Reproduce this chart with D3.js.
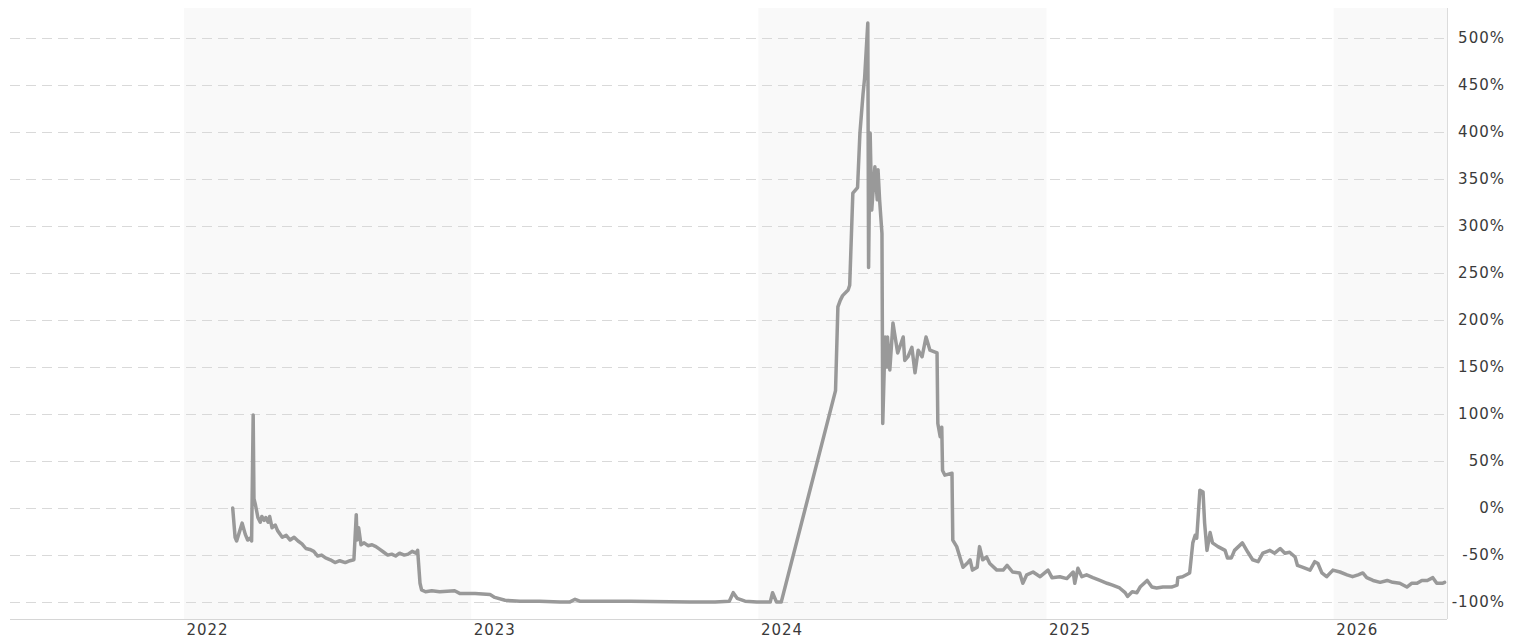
<!DOCTYPE html>
<html>
<head>
<meta charset="utf-8">
<script src="https://cdn.jsdelivr.net/npm/d3@7"></script>
<style>
  html, body { margin: 0; padding: 0; background: #fff; }
  svg { display: block; }
  text { font-family: "DejaVu Sans", Verdana, sans-serif; }
</style>
</head>
<body>
<svg id="chart" width="1523" height="639"></svg>
<script>
// ---- data ----
const dates = [
  "2022-03-04","2022-03-07","2022-03-09","2022-03-16","2022-03-20","2022-03-23","2022-03-26","2022-03-28","2022-03-30","2022-03-31",
  "2022-04-02","2022-04-05","2022-04-08","2022-04-10","2022-04-13","2022-04-15","2022-04-18","2022-04-20","2022-04-23","2022-04-27",
  "2022-04-30","2022-05-06","2022-05-11","2022-05-16","2022-05-21","2022-05-26","2022-05-31","2022-06-05","2022-06-10","2022-06-15",
  "2022-06-20","2022-06-25","2022-06-30","2022-07-06","2022-07-12","2022-07-18","2022-07-25","2022-07-31","2022-08-05","2022-08-08",
  "2022-08-09","2022-08-11","2022-08-14","2022-08-18","2022-08-23","2022-08-28","2022-09-02","2022-09-07","2022-09-12","2022-09-17",
  "2022-09-22","2022-09-27","2022-10-02","2022-10-08","2022-10-13","2022-10-18","2022-10-23","2022-10-25","2022-10-28","2022-10-30",
  "2022-11-04","2022-11-12","2022-11-22","2022-12-11","2022-12-18","2023-01-06","2023-01-25","2023-01-31","2023-02-13","2023-03-04",
  "2023-03-29","2023-04-24","2023-05-06","2023-05-13","2023-05-19","2023-07-22","2023-10-06","2023-11-07","2023-11-25","2023-11-30",
  "2023-12-05","2023-12-15","2023-12-30","2024-01-16","2024-01-19","2024-01-24","2024-01-30","2024-04-08","2024-04-11","2024-04-14",
  "2024-04-17","2024-04-24","2024-04-26","2024-04-30","2024-05-06","2024-05-09","2024-05-13","2024-05-15","2024-05-19","2024-05-20",
  "2024-05-22","2024-05-24","2024-05-28","2024-05-31","2024-06-01","2024-06-03","2024-06-06","2024-06-07","2024-06-10","2024-06-12",
  "2024-06-13","2024-06-16","2024-06-20","2024-06-22","2024-06-26","2024-07-03","2024-07-05","2024-07-09","2024-07-14","2024-07-18",
  "2024-07-22","2024-07-27","2024-08-01","2024-08-06","2024-08-15","2024-08-16","2024-08-19","2024-08-21","2024-08-22","2024-08-25",
  "2024-09-03","2024-09-04","2024-09-09","2024-09-13","2024-09-17","2024-09-22","2024-09-26","2024-09-29","2024-10-05","2024-10-08",
  "2024-10-12","2024-10-17","2024-10-21","2024-10-30","2024-11-07","2024-11-12","2024-11-19","2024-11-28","2024-12-02","2024-12-07",
  "2024-12-15","2024-12-24","2025-01-03","2025-01-08","2025-01-18","2025-01-27","2025-02-04","2025-02-06","2025-02-10","2025-02-15",
  "2025-02-21","2025-03-01","2025-03-10","2025-03-19","2025-03-26","2025-04-04","2025-04-11","2025-04-14","2025-04-20","2025-04-26",
  "2025-04-30","2025-05-09","2025-05-15","2025-05-21","2025-05-29","2025-06-09","2025-06-16","2025-06-17","2025-06-23","2025-07-02",
  "2025-07-06","2025-07-09","2025-07-11","2025-07-15","2025-07-19","2025-07-21","2025-07-24","2025-07-28","2025-07-31","2025-08-07",
  "2025-08-16","2025-08-19","2025-08-24","2025-08-28","2025-09-07","2025-09-14","2025-09-20","2025-09-27","2025-10-03","2025-10-12",
  "2025-10-18","2025-10-25","2025-10-31","2025-11-06","2025-11-13","2025-11-16","2025-11-23","2025-12-02","2025-12-08","2025-12-12",
  "2025-12-17","2025-12-23","2025-12-31","2026-01-09","2026-01-18","2026-01-25","2026-02-01","2026-02-07","2026-02-12","2026-02-20",
  "2026-03-01","2026-03-10","2026-03-17","2026-03-26","2026-04-04","2026-04-10","2026-04-17","2026-04-23","2026-04-30","2026-05-07",
  "2026-05-12","2026-05-19","2026-05-22"
];
const values = [
  0,-31,-35,-16,-28,-34,-32,-35,99,10,
  3,-10,-15,-9,-13,-10,-15,-9,-21,-18,
  -24,-31,-29,-34,-31,-35,-38,-43,-44,-46,
  -51,-50,-53,-55,-58,-56,-58,-56,-55,-7,
  -34,-21,-39,-37,-40,-39,-41,-44,-47,-50,
  -49,-51,-48,-50,-49,-46,-48,-45,-80,-87,
  -89,-88,-89,-88,-91,-91,-92,-95,-98,-99,
  -99,-100,-100,-97,-99,-99,-100,-100,-99,-90,
  -96,-99,-100,-100,-90,-100,-100,125,214,221,
  226,232,237,335,341,399,441,458,516,256,
  399,317,363,328,360,328,292,90,182,150,
  182,147,197,186,165,182,157,161,171,144,
  168,161,182,168,165,90,76,86,40,35,
  37,-34,-41,-52,-63,-59,-55,-66,-63,-41,
  -55,-52,-59,-66,-66,-61,-68,-69,-80,-71,
  -68,-73,-66,-74,-73,-75,-68,-80,-64,-73,
  -71,-74,-77,-80,-82,-85,-90,-94,-89,-90,
  -84,-77,-84,-85,-84,-84,-82,-74,-73,-69,
  -37,-29,-32,19,17,-16,-45,-26,-37,-41,
  -45,-53,-53,-45,-37,-47,-55,-57,-48,-45,
  -48,-43,-48,-47,-52,-61,-63,-66,-57,-59,
  -69,-73,-66,-68,-71,-73,-71,-69,-74,-77,
  -79,-77,-79,-80,-84,-80,-80,-77,-77,-74,
  -80,-80,-79
];
const yTicks = [-100,-50,0,50,100,150,200,250,300,350,400,450,500];
const yearTicks = ["2022","2023","2024","2025","2026"];
const shadedYears = ["2022","2024","2026"];
const xDomain = ["2021-05-25","2026-05-25"];
const yDomain = [-118, 532];

// ---- drawing ----
(function () {
const parse = d3.timeParse("%Y-%m-%d");
const parseYear = d3.timeParse("%Y");
const series = dates.map((d, i) => ({ date: parse(d), value: values[i] }));

const pLeft = 10, pRight = 1447, pTop = 8, pBottom = 619;
const x = d3.scaleTime().domain(xDomain.map(parse)).range([pLeft, pRight]);
const y = d3.scaleLinear().domain(yDomain).range([pBottom, pTop]);

const svg = d3.select("#chart");

// alternating year bands
svg.append("g").selectAll("rect").data(shadedYears).join("rect")
  .attr("x", d => Math.max(pLeft, x(parseYear(d))))
  .attr("y", pTop)
  .attr("width", d => {
    const x0 = Math.max(pLeft, x(parseYear(d)));
    const x1 = Math.min(pRight, x(parseYear(String(+d + 1))));
    return Math.max(0, x1 - x0);
  })
  .attr("height", pBottom - pTop)
  .attr("fill", "#f9f9f9");

// horizontal dashed grid
svg.append("g").selectAll("line").data(yTicks).join("line")
  .attr("x1", pLeft).attr("x2", pRight)
  .attr("y1", d => Math.round(y(d)) + 0.5).attr("y2", d => Math.round(y(d)) + 0.5)
  .attr("stroke", "#d9d9d9").attr("stroke-width", 1)
  .attr("stroke-dasharray", "10,6");

// frame lines
svg.append("line").attr("x1", pLeft).attr("x2", pRight).attr("y1", pBottom + 0.5).attr("y2", pBottom + 0.5)
  .attr("stroke", "#d6d6d6");
svg.append("line").attr("x1", pRight + 0.5).attr("x2", pRight + 0.5).attr("y1", pTop).attr("y2", pBottom)
  .attr("stroke", "#dcdcdc");

// right y axis
const yAxis = d3.axisRight(y).tickValues(yTicks).tickSize(0).tickPadding(0)
  .tickFormat(d => d + "%");
const gy = svg.append("g").attr("transform", `translate(${pRight + 58},0)`).call(yAxis);
gy.select(".domain").remove();
gy.selectAll("text")
  .attr("text-anchor", "end").attr("x", 0)
  .attr("fill", "#3a3a3a").style("font-size", "15px").style("letter-spacing", "1px");

// bottom x axis
const xAxis = d3.axisBottom(x).tickValues(yearTicks.map(parseYear)).tickSize(0).tickPadding(0)
  .tickFormat(d3.timeFormat("%Y"));
const gx = svg.append("g").attr("transform", `translate(0,${pBottom})`).call(xAxis);
gx.select(".domain").remove();
gx.selectAll("text")
  .attr("text-anchor", "start").attr("x", 2).attr("y", 16).attr("dy", 0)
  .attr("fill", "#3a3a3a").style("font-size", "15px").style("letter-spacing", "1px");

// line
const line = d3.line().x(d => x(d.date)).y(d => y(d.value));
svg.append("path").datum(series)
  .attr("d", line)
  .attr("fill", "none")
  .attr("stroke", "#999")
  .attr("stroke-width", 3.5)
  .attr("stroke-linejoin", "round")
  .attr("stroke-linecap", "round");
})();
</script>
</body>
</html>
